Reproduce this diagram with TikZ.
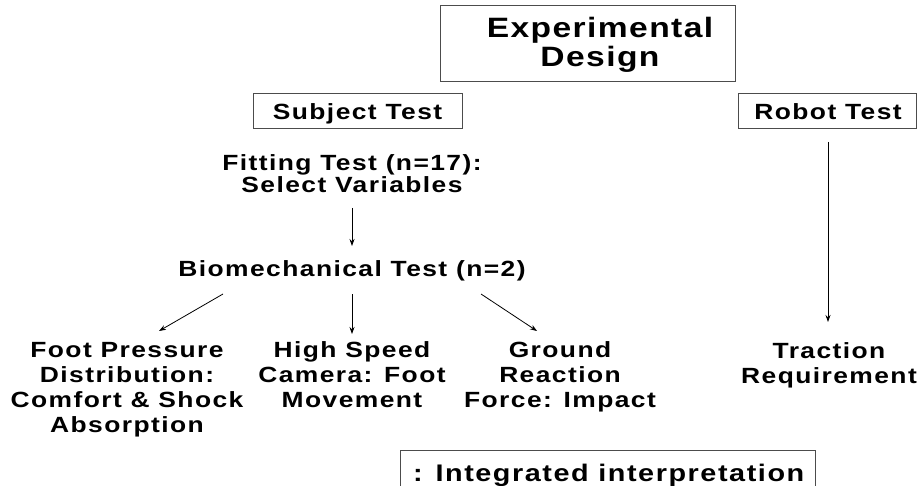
\documentclass[tikz,border=0pt]{standalone}
\usepackage{fontspec}
\setmainfont{Liberation Sans}[FakeStretch=1.2, LetterSpace=6.5]
\usetikzlibrary{arrows.meta}
\begin{document}
\begin{tikzpicture}[x=1pt, y=-1pt, every node/.style={font=\bfseries\fontsize{22}{24.7}\selectfont, align=center, inner sep=0pt}, box/.style={draw=black!70, line width=0.8pt}, arr/.style={-{Stealth[length=7pt, width=5pt]}, line width=0.8pt}]
	\useasboundingbox (0,0) rectangle (917,486);
		% boxes
		\draw[box] (440,5) rectangle (735,81);
		\node[font=\bfseries\fontsize{28}{29}\selectfont\addfontfeature{LetterSpace=5.0}, anchor=base] (design) at (600,67) {Experimental\\Design};
		\draw[box] (253,93) rectangle (462,128);
		\node[anchor=base] (subject) at (357.5,120) {Subject Test};
		\draw[box] (738,93) rectangle (916,128);
		\node[anchor=base] (robot) at (828,120) {Robot Test};

		% last line is the base
		\node[anchor=base] (fitting) at (352,193) {Fitting Test (n=17):\\[-2pt]Select Variables};
		\node[anchor=base] (bio) at (352,276) {Biomechanical Test (n=2)};
		\node[anchor=base] (foot) at (127,432) {Foot Pressure\\Distribution:\\Comfort \& Shock\\Absorption};
		\node[anchor=base] (camera) at (352,407) {High Speed\\Camera: Foot\\Movement};
		\node[anchor=base] (force) at (560,407) {Ground\\Reaction\\Force: Impact};
		\node[anchor=base] (traction) at (829,383) {Traction\\Requirement};

		\coordinate (f1) at (352,208);
		\coordinate (f2) at (352,246);
		\draw[arr] (f1) -- (f2);
		\coordinate (b1) at (223,294);
		\coordinate (b2) at (159,331);
		\draw[arr] (b1) -- (b2);
		\coordinate (b3) at (352,294);
		\coordinate (b4) at (352,334);
		\draw[arr] (b3) -- (b4);
		\coordinate (b5) at (481,294);
		\coordinate (b6) at (537,331);
		\draw[arr] (b5) -- (b6);
		\coordinate (r1) at (828,142);
		\coordinate (r2) at (828,322);
		\draw[arr] (r1) -- (r2);

		% legend, cut by the lower edge
		\draw[box] (400,500) -- (400,450) -- (815,450) -- (815,500);
		\node[font=\bfseries\fontsize{24}{26}\selectfont, anchor=base west] (legend) at (413,481) {: Integrated interpretation};
	\end{tikzpicture}
\end{document}
